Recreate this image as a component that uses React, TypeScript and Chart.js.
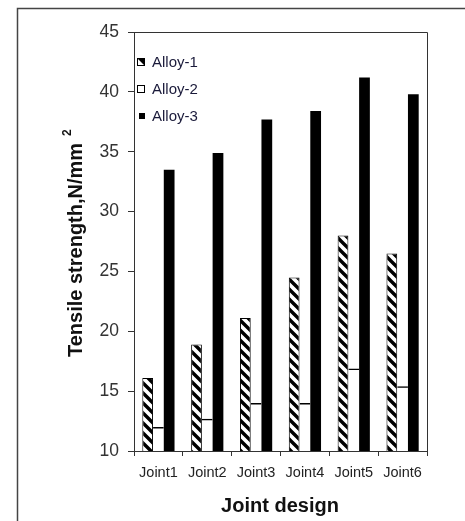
import React, { useEffect, useRef } from 'react';
import { Chart, registerables } from 'chart.js';

Chart.register(...registerables);

const categories = ['Joint1', 'Joint2', 'Joint3', 'Joint4', 'Joint5', 'Joint6'];
const seriesNames = ['Alloy-1', 'Alloy-2', 'Alloy-3'];
const alloy1 = [16.1, 18.9, 21.1, 24.5, 28.0, 26.5];
const alloy2 = [12.0, 12.7, 14.0, 14.0, 16.9, 15.4];
const alloy3 = [33.5, 34.9, 37.7, 38.4, 41.2, 39.8];
const yMin = 10;
const yMax = 45;
const yStep = 5;
const xTitle = 'Joint design';
const yTitle = 'Tensile strength,N/mm';
const yTitleSup = '2';

function makeHatch(): CanvasPattern | string {
  const c = document.createElement('canvas');
  const s = 10;
  c.width = s;
  c.height = s;
  const g = c.getContext('2d');
  if (!g) return '#000';
  g.fillStyle = '#fff';
  g.fillRect(0, 0, s, s);
  g.strokeStyle = '#000';
  g.lineWidth = 3.4;
  g.beginPath();
  g.moveTo(-s, -s);
  g.lineTo(2 * s, 2 * s);
  g.moveTo(-s, 0);
  g.lineTo(s, 2 * s);
  g.moveTo(0, -s);
  g.lineTo(2 * s, s);
  g.stroke();
  const p = g.createPattern(c, 'repeat');
  return p || '#000';
}

export default function App() {
  const ref = useRef<HTMLCanvasElement | null>(null);

  useEffect(() => {
    const canvas = ref.current;
    if (!canvas) return;
    const hatch = makeHatch();

    const decor = {
      id: 'decor',
      beforeDraw(chart: any) {
        const ctx = chart.ctx;
        ctx.save();
        ctx.fillStyle = '#fff';
        ctx.fillRect(0, 0, chart.width, chart.height);
        ctx.strokeStyle = '#444';
        ctx.lineWidth = 1.5;
        ctx.beginPath();
        ctx.moveTo(17.5, chart.height);
        ctx.lineTo(17.5, 8.5);
        ctx.lineTo(chart.width, 8.5);
        ctx.stroke();
        ctx.restore();
      },
      afterDraw(chart: any) {
        const ctx = chart.ctx;
        const a = chart.chartArea;
        ctx.save();
        ctx.strokeStyle = '#333';
        ctx.lineWidth = 1;
        ctx.beginPath();
        ctx.moveTo(Math.round(a.left) + 0.5, Math.round(a.top) + 0.5);
        ctx.lineTo(Math.round(a.right) + 0.5, Math.round(a.top) + 0.5);
        ctx.lineTo(Math.round(a.right) + 0.5, Math.round(a.bottom) + 0.5);
        ctx.stroke();

        // legend
        const lx = a.left + 3;
        const ys = [62, 89, 116];
        ctx.font = '15px "Liberation Sans", Arial, sans-serif';
        ctx.textBaseline = 'middle';
        ctx.textAlign = 'left';
        // Alloy-1
        ctx.fillStyle = '#fff';
        ctx.fillRect(lx, ys[0] - 4, 8, 8);
        ctx.fillStyle = '#000';
        ctx.beginPath();
        ctx.moveTo(lx, ys[0] - 4);
        ctx.lineTo(lx + 8, ys[0] - 4);
        ctx.lineTo(lx + 8, ys[0] + 4);
        ctx.closePath();
        ctx.fill();
        ctx.strokeStyle = '#000';
        ctx.lineWidth = 1;
        ctx.strokeRect(lx + 0.5, ys[0] - 3.5, 7, 7);
        // Alloy-2
        ctx.fillStyle = '#fff';
        ctx.fillRect(lx, ys[1] - 4, 8, 8);
        ctx.strokeRect(lx + 0.5, ys[1] - 3.5, 7, 7);
        // Alloy-3
        ctx.fillStyle = '#000';
        ctx.fillRect(lx + 2, ys[2] - 3, 6, 6);
        ctx.fillStyle = '#1a1a3a';
        seriesNames.forEach((n, i) => ctx.fillText(n, lx + 15, ys[i] + 0.5));

        // x title
        ctx.fillStyle = '#111';
        ctx.font = 'bold 20px "Liberation Sans", Arial, sans-serif';
        ctx.textAlign = 'center';
        ctx.fillText(xTitle, 280, 506);

        // y title
        ctx.translate(82, 357);
        ctx.rotate(-Math.PI / 2);
        ctx.textAlign = 'left';
        ctx.textBaseline = 'alphabetic';
        ctx.font = 'bold 20px "Liberation Sans", Arial, sans-serif';
        ctx.fillText(yTitle, 0, 0);
        const w = ctx.measureText(yTitle).width;
        ctx.font = 'bold 12px "Liberation Sans", Arial, sans-serif';
        ctx.fillText(yTitleSup, w + 7, -11);
        ctx.restore();
      },
    };

    const chart = new Chart(canvas, {
      type: 'bar',
      data: {
        labels: categories,
        datasets: [
          {
            label: seriesNames[0],
            data: alloy1,
            backgroundColor: hatch as any,
            borderColor: '#000',
            borderWidth: 1,
            borderSkipped: 'bottom',
          },
          {
            label: seriesNames[1],
            data: alloy2,
            backgroundColor: 'rgba(255,255,255,0)',
            borderColor: '#000',
            borderWidth: { top: 1.5, left: 0, right: 0, bottom: 0 } as any,
            borderSkipped: 'bottom',
          },
          {
            label: seriesNames[2],
            data: alloy3,
            backgroundColor: '#000',
            borderWidth: 0,
          },
        ],
      },
      options: {
        animation: false,
        responsive: false,
        events: [],
        layout: { padding: { left: 0, top: 32, right: 38, bottom: 0 } },
        plugins: {
          legend: { display: false },
          tooltip: { enabled: false },
          title: { display: false },
        },
        datasets: {
          bar: { categoryPercentage: 0.66, barPercentage: 1 },
        },
        scales: {
          x: {
            offset: true,
            grid: {
              offset: true,
              drawOnChartArea: false,
              drawTicks: true,
              tickLength: 5,
              color: '#333',
            },
            border: { display: true, color: '#333', width: 1 },
            ticks: {
              color: '#222',
              font: { family: '"Liberation Sans", Arial, sans-serif', size: 14.5 },
              padding: 8,
              maxRotation: 0,
            },
            afterFit(scale: any) {
              scale.height = 70;
            },
          },
          y: {
            min: yMin,
            max: yMax,
            grid: {
              drawOnChartArea: false,
              drawTicks: true,
              tickLength: 6,
              color: '#333',
            },
            border: { display: true, color: '#333', width: 1 },
            ticks: {
              stepSize: yStep,
              color: '#333',
              font: { family: '"Liberation Sans", Arial, sans-serif', size: 17.5 },
              padding: 9,
            },
            afterFit(scale: any) {
              scale.width = 134;
            },
          },
        },
      },
      plugins: [decor],
    });
    return () => chart.destroy();
  }, []);

  return (
    <div style={{ position: 'absolute', left: 0, top: 0, width: 465, height: 521 }}>
      <canvas ref={ref} width={465} height={521} style={{ width: 465, height: 521, display: 'block' }} />
    </div>
  );
}
